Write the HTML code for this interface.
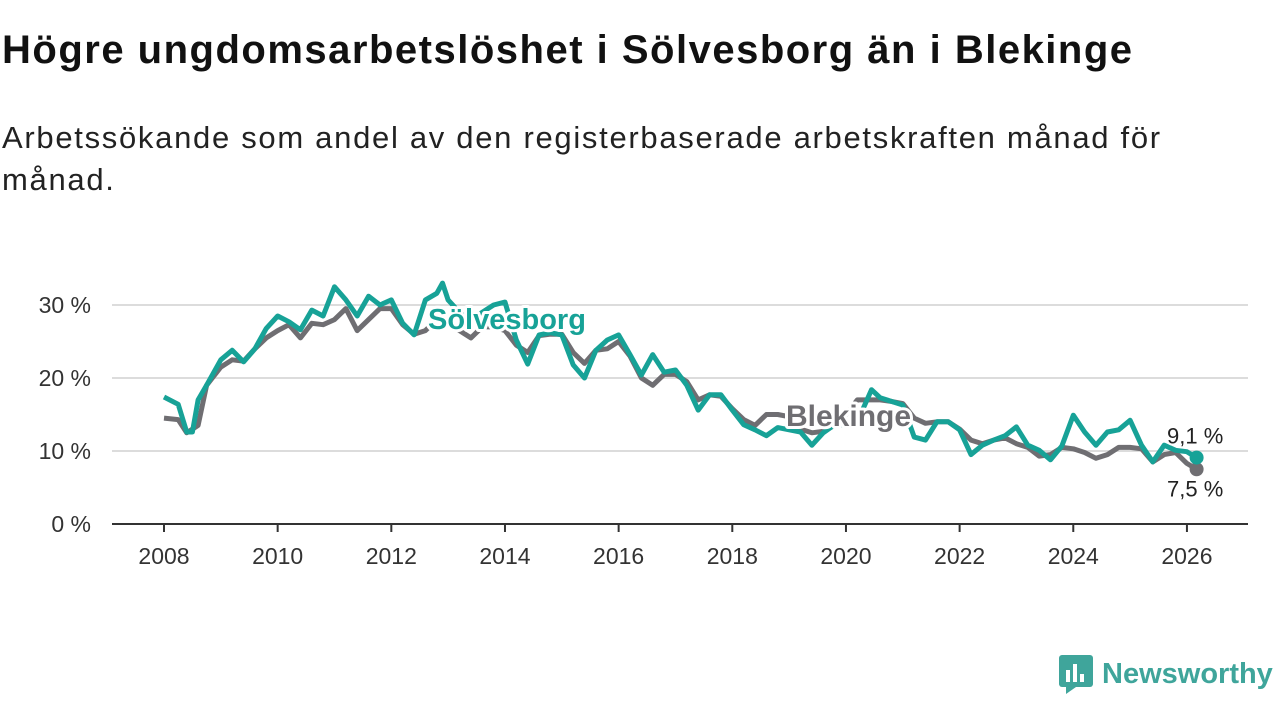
<!DOCTYPE html>
<html><head><meta charset="utf-8"><style>
body{margin:0;width:1280px;height:720px;background:#fff;font-family:"Liberation Sans",sans-serif;overflow:hidden;position:relative}
h1{position:absolute;left:2px;top:28px;margin:0;font-size:40px;font-weight:bold;color:#111;letter-spacing:1.5px;white-space:nowrap}
p.sub{position:absolute;left:2px;top:117px;margin:0;font-size:31px;line-height:42px;color:#222;width:1200px;letter-spacing:1.7px}
svg{position:absolute;left:0;top:0}
.logo{position:absolute;left:1058px;top:654px;display:flex;align-items:center;color:#3fa59b;font-size:29px;font-weight:bold}
</style></head><body>
<h1>Högre ungdomsarbetslöshet i Sölvesborg än i Blekinge</h1>
<p class="sub">Arbetssökande som andel av den registerbaserade arbetskraften månad för månad.</p>
<svg id="chart" width="1280" height="720"></svg>
<div class="logo"><svg width="36" height="40" style="position:static;margin-right:8px"><rect x="1" y="1" width="34" height="32" rx="3" fill="#3fa59b"/><polygon points="8,33 18,33 8,40" fill="#3fa59b"/><rect x="8" y="16" width="4" height="12" fill="#fff"/><rect x="15" y="10" width="4" height="18" fill="#fff"/><rect x="22" y="20" width="4" height="8" fill="#fff"/></svg><span>Newsworthy</span></div>
<script>
const times=[2008.0,2008.25,2008.4,2008.5,2008.6,2008.75,2009.0,2009.2,2009.4,2009.6,2009.8,2010.0,2010.2,2010.4,2010.6,2010.8,2011.0,2011.2,2011.4,2011.6,2011.8,2012.0,2012.2,2012.4,2012.6,2012.8,2012.9,2013.0,2013.2,2013.4,2013.6,2013.8,2014.0,2014.2,2014.4,2014.6,2014.8,2015.0,2015.2,2015.4,2015.6,2015.8,2016.0,2016.2,2016.4,2016.6,2016.8,2017.0,2017.2,2017.4,2017.6,2017.8,2018.0,2018.2,2018.4,2018.6,2018.8,2019.0,2019.2,2019.4,2019.6,2019.8,2020.0,2020.2,2020.45,2020.6,2020.8,2021.0,2021.2,2021.4,2021.6,2021.8,2022.0,2022.2,2022.4,2022.6,2022.8,2023.0,2023.2,2023.4,2023.6,2023.8,2024.0,2024.2,2024.4,2024.6,2024.8,2025.0,2025.2,2025.4,2025.6,2025.8,2026.0,2026.17];
const solvesborg=[17.4,16.4,12.6,12.6,17,19,22.5,23.8,22.2,24,26.8,28.5,27.7,26.6,29.3,28.5,32.5,30.7,28.5,31.2,30,30.7,27.5,25.9,30.7,31.6,33,30.7,29,28,29,30,30.4,25.2,21.9,25.9,26.2,25.9,21.8,20,23.8,25.2,25.9,23.2,20.4,23.2,20.8,21.1,19,15.6,17.7,17.7,15.6,13.6,12.9,12.1,13.2,12.9,12.6,10.8,12.5,13.6,13.6,14,18.4,17.3,16.8,16.3,11.9,11.5,14,14,12.9,9.5,10.8,11.5,12.1,13.3,10.8,10.1,8.8,10.7,14.9,12.6,10.8,12.6,12.9,14.2,10.8,8.5,10.8,10.1,9.9,9.1];
const blekinge=[14.5,14.3,12.5,13,13.5,19,21.5,22.5,22.3,24,25.5,26.5,27.3,25.5,27.5,27.3,28,29.5,26.5,28,29.5,29.5,27.3,26,26.5,28,27.8,27.5,26.5,25.5,27,27,26.5,24.5,23.5,25.8,26,26,23.5,22,23.8,24,25,23,20,19,20.5,20.5,19.5,17,17.7,17.5,15.8,14.3,13.5,15,15,14.7,13,12.5,12.7,13.5,15,17,17,17,16.8,16.5,14.5,13.8,14,14,13,11.5,11,11.5,11.8,11,10.5,9.3,9.5,10.5,10.3,9.8,9,9.5,10.5,10.5,10.3,8.5,9.5,9.8,8.3,7.5];
const yTicks=[0,10,20,30];
const yTickLabels=["0 %","10 %","20 %","30 %"];
const xTicks=[2008,2010,2012,2014,2016,2018,2020,2022,2024,2026];
const X=t=>164+(t-2008)*56.83;
const Y=v=>524-v*7.3;
const svg=document.getElementById('chart');
const NS='http://www.w3.org/2000/svg';
function mk(tag,attrs,parent){const e=document.createElementNS(NS,tag);for(const k in attrs)e.setAttribute(k,attrs[k]);(parent||svg).appendChild(e);return e;}
yTicks.forEach((v,i)=>{
  if(v>0){const g=mk('line',{x1:112,x2:1248,y1:Y(v),y2:Y(v),stroke:'#dcdcdc','stroke-width':2});
  
  }
  const t=mk('text',{x:91,y:Y(v)+8,'text-anchor':'end','font-size':23,fill:'#333'});
  t.textContent=yTickLabels[i];
  
  
});
const ax=mk('line',{x1:112,x2:1248,y1:Y(0),y2:Y(0),stroke:'#333','stroke-width':2});


xTicks.forEach(yr=>{
  const tk=mk('line',{x1:X(yr),x2:X(yr),y1:Y(0),y2:Y(0)+8,stroke:'#333','stroke-width':2});
  
  
  const t=mk('text',{x:X(yr),y:564,'text-anchor':'middle','font-size':23,fill:'#333'});
  t.textContent=yr;
  
  
});
function line(vals,color,name){
  const d=vals.map((v,i)=>(i?'L':'M')+X(times[i]).toFixed(1)+','+Y(v).toFixed(1)).join('');
  const p=mk('path',{d:d,fill:'none',stroke:color,'stroke-width':5,'stroke-linejoin':'round'});
  
  
  const n=vals.length-1;
  const c=mk('circle',{cx:X(times[n]),cy:Y(vals[n]),r:7,fill:color});
  
  
}
line(blekinge,'#6f6e72','blekinge-line');
line(solvesborg,'#17a297','solvesborg-line');
function lab(x,y,txt,color,name,size,bold){
  const t=mk('text',{x:x,y:y,'font-size':size,'font-weight':bold?'bold':'normal',fill:color,stroke:'#fff','stroke-width':bold?6:4,'paint-order':'stroke','stroke-linejoin':'round'});
  t.textContent=txt;
  
  
}
lab(428,329,'Sölvesborg','#17a297','solvesborg-label',29,true);
lab(786,426,'Blekinge','#6f6e72','blekinge-label',30,true);
const nl=solvesborg.length-1;
lab(1167,Y(solvesborg[nl])-14,'9,1 %','#222','solvesborg-end-value',22,false);
lab(1167,Y(blekinge[nl])+27,'7,5 %','#222','blekinge-end-value',22,false);
</script>
</body></html>
